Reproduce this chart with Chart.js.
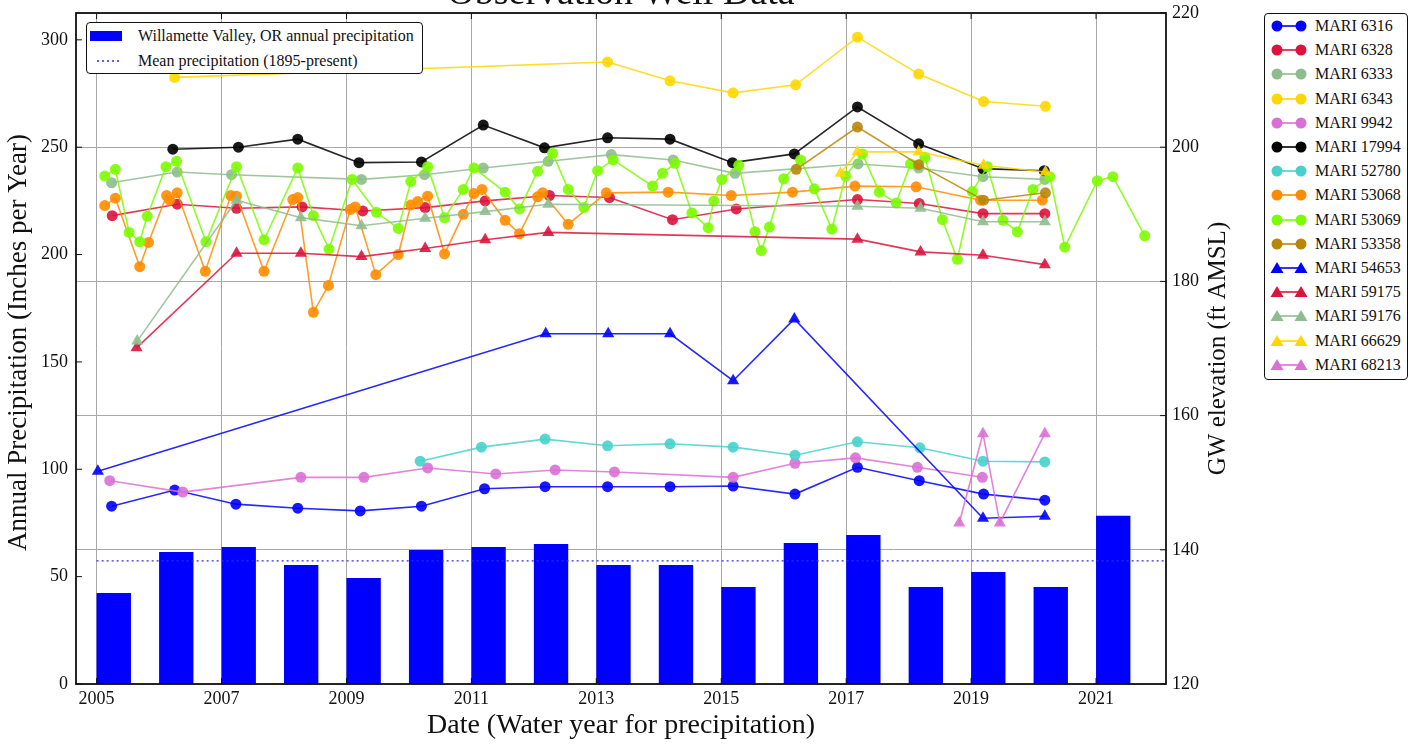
<!DOCTYPE html>
<html>
<head>
<meta charset="utf-8">
<script src="https://cdn.jsdelivr.net/npm/chart.js@4.4.1/dist/chart.umd.min.js"></script>
<style>
  html, body { margin: 0; padding: 0; background: #fff; overflow: hidden; }
  #wrap { position: relative; width: 1418px; height: 747px; font-family: "Liberation Serif", "Times New Roman", serif; }
  #chart { position: absolute; left: 0; top: 0; }
  .legend { position: absolute; background: #fff; border: 1.3px solid #111; border-radius: 4px; box-sizing: border-box; font-size: 16px; color: #111; }
  .legend .row { display: flex; align-items: center; white-space: nowrap; }
  .legend svg { flex: none; }
</style>
</head>
<body>
<div id="wrap">
  <canvas id="chart" width="1418" height="747"></canvas>
  <div id="legendPrecip" class="legend" style="left:86px; top:22px; width:337px; height:52px;"></div>
  <div id="legendWells" class="legend" style="left:1264px; top:13px; width:144px; height:367px;"></div>
</div>
<script>
// precipitation (left axis, inches per year)
const precipYears = [2005, 2006, 2007, 2008, 2009, 2010, 2011, 2012, 2013, 2014, 2015, 2016, 2017, 2018, 2019, 2020, 2021];
const precipInches = [42.4, 61.5, 63.8, 55.4, 49.4, 62.4, 63.8, 65.2, 55.4, 55.4, 45.2, 65.7, 69.4, 45.2, 52.2, 45.2, 78.3];
const meanPrecip = 57.3;
const meanYears = [2005, 2022.2];

// axis ticks
const xTicks = [2005, 2007, 2009, 2011, 2013, 2015, 2017, 2019, 2021];
const leftTicks = [0, 50, 100, 150, 200, 250, 300];
const rightTicks = [120, 140, 160, 180, 200, 220];

// well water levels (right axis, ft AMSL); *T = decimal year, *V = elevation
const m6316T = [2005.24, 2006.25, 2007.23, 2008.22, 2009.22, 2010.20, 2011.21, 2012.18, 2013.18, 2014.18, 2015.19, 2016.18, 2017.18, 2018.17, 2019.20, 2020.18];
const m6316V = [146.5, 148.9, 146.8, 146.2, 145.8, 146.5, 149.1, 149.4, 149.4, 149.4, 149.5, 148.3, 152.3, 150.3, 148.3, 147.4];

const m6328T = [2005.25, 2006.29, 2007.24, 2008.29, 2009.26, 2010.26, 2011.22, 2012.25, 2013.21, 2014.22, 2015.24, 2017.18, 2018.17, 2019.19, 2020.18];
const m6328V = [189.8, 191.5, 190.9, 191.1, 190.5, 191.0, 192.0, 192.8, 192.5, 189.2, 190.8, 192.2, 191.6, 190.1, 190.1];

const m6333T = [2005.24, 2006.29, 2007.16, 2009.24, 2010.25, 2011.19, 2012.23, 2013.24, 2014.23, 2015.22, 2017.19, 2018.16, 2019.19, 2020.18];
const m6333V = [194.7, 196.3, 195.9, 195.2, 195.9, 196.9, 197.9, 198.9, 198.1, 196.1, 197.5, 196.9, 195.6, 195.2];

const m6343T = [2006.25, 2013.18, 2014.18, 2015.19, 2016.19, 2017.18, 2018.16, 2019.20, 2020.19];
const m6343V = [210.4, 212.7, 209.9, 208.1, 209.3, 216.4, 210.9, 206.8, 206.1];

const m9942T = [2005.21, 2006.38, 2008.27, 2009.28, 2010.30, 2011.39, 2012.34, 2013.29, 2015.19, 2016.18, 2017.15, 2018.14, 2019.18];
const m9942V = [150.3, 148.6, 150.8, 150.8, 152.2, 151.3, 151.9, 151.6, 150.8, 152.9, 153.7, 152.3, 150.8];

const m17994T = [2006.22, 2007.27, 2008.22, 2009.20, 2010.20, 2011.19, 2012.17, 2013.18, 2014.18, 2015.18, 2016.17, 2017.18, 2018.16, 2019.19, 2020.17];
const m17994V = [199.7, 200.0, 201.2, 197.7, 197.8, 203.3, 199.9, 201.4, 201.2, 197.7, 199.0, 206.0, 200.5, 196.8, 196.5];

const m52780T = [2010.18, 2011.16, 2012.18, 2013.18, 2014.18, 2015.19, 2016.18, 2017.18, 2018.18, 2019.19, 2020.18];
const m52780V = [153.2, 155.3, 156.5, 155.5, 155.8, 155.3, 154.1, 156.1, 155.2, 153.2, 153.1];

const m53068T = [2005.13, 2005.30, 2005.69, 2005.83, 2006.12, 2006.17, 2006.29, 2006.74, 2007.15, 2007.24, 2007.68, 2008.14, 2008.22, 2008.47, 2008.71, 2009.06, 2009.14, 2009.47, 2009.83, 2010.03, 2010.14, 2010.30, 2010.57, 2010.87, 2011.04, 2011.17, 2011.54, 2011.77, 2012.06, 2012.14, 2012.55, 2013.16, 2014.15, 2015.16, 2016.14, 2017.14, 2018.12, 2019.15, 2020.14];
const m53068V = [191.3, 192.4, 182.2, 185.8, 192.8, 192.1, 193.2, 181.5, 192.8, 192.7, 181.5, 192.2, 192.5, 175.4, 179.4, 190.7, 191.1, 181.0, 184.0, 191.4, 191.9, 192.7, 184.1, 190.0, 193.1, 193.7, 189.1, 187.1, 192.6, 193.2, 188.5, 193.2, 193.3, 192.8, 193.3, 194.2, 194.1, 192.1, 192.1];

const m53069T = [2005.13, 2005.30, 2005.52, 2005.69, 2005.81, 2006.11, 2006.28, 2006.75, 2007.24, 2007.68, 2008.22, 2008.47, 2008.72, 2009.09, 2009.48, 2009.83, 2010.03, 2010.30, 2010.57, 2010.87, 2011.04, 2011.54, 2011.77, 2012.06, 2012.30, 2012.55, 2012.80, 2013.02, 2013.27, 2013.90, 2014.06, 2014.26, 2014.53, 2014.79, 2014.88, 2015.01, 2015.28, 2015.54, 2015.64, 2015.77, 2016.00, 2016.27, 2016.49, 2016.77, 2016.99, 2017.26, 2017.53, 2017.80, 2018.03, 2018.26, 2018.54, 2018.78, 2019.02, 2019.26, 2019.51, 2019.74, 2019.99, 2020.26, 2020.50, 2021.02, 2021.27, 2021.78];
const m53069V = [195.7, 196.7, 187.3, 185.9, 189.7, 197.1, 197.9, 185.9, 197.1, 186.2, 196.9, 189.8, 184.8, 195.2, 190.3, 187.9, 194.9, 197.1, 189.5, 193.7, 196.9, 193.3, 190.8, 196.4, 199.1, 193.7, 191.0, 196.5, 198.1, 194.2, 196.1, 197.6, 190.2, 188.0, 192.0, 195.2, 197.3, 187.4, 184.6, 188.1, 195.3, 198.1, 193.8, 187.8, 195.7, 199.0, 193.3, 191.7, 197.5, 198.5, 189.2, 183.3, 193.4, 197.1, 189.1, 187.4, 193.7, 195.6, 185.1, 195.0, 195.6, 186.8];

const m53358T = [2016.20, 2017.18, 2018.16, 2019.20, 2020.19];
const m53358V = [196.7, 203.0, 197.4, 192.1, 193.2];

const m54653T = [2005.02, 2012.19, 2013.19, 2014.18, 2015.19, 2016.17, 2019.19, 2020.18];
const m54653V = [151.7, 172.2, 172.2, 172.2, 165.2, 174.4, 144.7, 145.0];

const m59175T = [2005.64, 2007.24, 2008.27, 2009.24, 2010.26, 2011.22, 2012.23, 2017.18, 2018.19, 2019.19, 2020.18];
const m59175V = [170.1, 184.2, 184.2, 183.7, 184.9, 186.2, 187.3, 186.3, 184.4, 183.9, 182.5];

const m59176T = [2005.65, 2007.24, 2008.27, 2009.24, 2010.26, 2011.22, 2012.23, 2017.18, 2018.19, 2019.19, 2020.18];
const m59176V = [171.1, 192.1, 189.5, 188.3, 189.4, 190.4, 191.5, 191.2, 190.9, 188.9, 188.9];

const m66629T = [2016.91, 2017.18, 2018.16, 2019.20, 2020.19];
const m66629V = [196.1, 199.3, 199.3, 197.3, 196.3];

const m68213T = [2018.81, 2019.19, 2019.46, 2020.18];
const m68213V = [144.0, 157.3, 144.0, 157.3];

const wells = [
  { label: "MARI 6316",  t: m6316T,  v: m6316V,  color: "#0000ff", marker: "circle" },
  { label: "MARI 6328",  t: m6328T,  v: m6328V,  color: "#dc143c", marker: "circle" },
  { label: "MARI 6333",  t: m6333T,  v: m6333V,  color: "#8fbc8f", marker: "circle" },
  { label: "MARI 6343",  t: m6343T,  v: m6343V,  color: "#ffd700", marker: "circle" },
  { label: "MARI 9942",  t: m9942T,  v: m9942V,  color: "#da70d6", marker: "circle" },
  { label: "MARI 17994", t: m17994T, v: m17994V, color: "#000000", marker: "circle" },
  { label: "MARI 52780", t: m52780T, v: m52780V, color: "#48d1cc", marker: "circle" },
  { label: "MARI 53068", t: m53068T, v: m53068V, color: "#ff8c00", marker: "circle" },
  { label: "MARI 53069", t: m53069T, v: m53069V, color: "#7cfc00", marker: "circle" },
  { label: "MARI 53358", t: m53358T, v: m53358V, color: "#b8860b", marker: "circle" },
  { label: "MARI 54653", t: m54653T, v: m54653V, color: "#0000ff", marker: "triangle" },
  { label: "MARI 59175", t: m59175T, v: m59175V, color: "#dc143c", marker: "triangle" },
  { label: "MARI 59176", t: m59176T, v: m59176V, color: "#8fbc8f", marker: "triangle" },
  { label: "MARI 66629", t: m66629T, v: m66629V, color: "#ffd700", marker: "triangle" },
  { label: "MARI 68213", t: m68213T, v: m68213V, color: "#da70d6", marker: "triangle" }
];

const SERIF = '"Liberation Serif", "Times New Roman", serif';
const BAR_W = 0.55;          // bar width in years, bars start at the year (edge aligned)
const GRID = "#a8a8a8";

const alpha = (hex, a) => hex + Math.round(a * 255).toString(16).padStart(2, "0");

const datasets = [
  {
    type: "bar",
    label: "Willamette Valley, OR annual precipitation",
    data: precipYears.map((yr, i) => ({ x: yr + BAR_W / 2, y: precipInches[i] })),
    yAxisID: "y",
    backgroundColor: "#0000ff",
    borderWidth: 0,
    barPercentage: BAR_W,
    categoryPercentage: 1,
    order: 100
  },
  {
    type: "line",
    label: "Mean precipitation (1895-present)",
    data: meanYears.map(yr => ({ x: yr, y: meanPrecip })),
    yAxisID: "y",
    borderColor: "#2a2aff",
    borderWidth: 1.3,
    borderDash: [2, 3],
    pointRadius: 0,
    order: 99
  },
  ...wells.map((w, i) => ({
    type: "line",
    label: w.label,
    data: w.t.map((t, j) => ({ x: t, y: w.v[j] })),
    yAxisID: "y2",
    borderColor: alpha(w.color, 0.85),
    backgroundColor: alpha(w.color, 0.9),
    pointBackgroundColor: alpha(w.color, 0.9),
    pointBorderColor: alpha(w.color, 0.9),
    pointBorderWidth: 0,
    pointStyle: w.marker,
    pointRadius: w.marker === "triangle" ? 7 : 5.5,
    borderWidth: 1.6,
    tension: 0,
    order: wells.length - i
  }))
];

// matplotlib style frame, inward ticks, clipped title, axis titles
const framePlugin = {
  id: "frame",
  afterDraw(chart) {
    const { ctx, chartArea: a, scales } = chart;
    ctx.save();
    ctx.strokeStyle = "#111";
    ctx.lineWidth = 1;
    ctx.beginPath();
    leftTicks.forEach(v => { const p = scales.y.getPixelForValue(v); ctx.moveTo(a.left, p); ctx.lineTo(a.left + 6, p); });
    rightTicks.forEach(v => { const p = scales.y2.getPixelForValue(v); ctx.moveTo(a.right - 6, p); ctx.lineTo(a.right, p); });
    xTicks.forEach(v => {
      const p = scales.x.getPixelForValue(v);
      ctx.moveTo(p, a.bottom); ctx.lineTo(p, a.bottom - 6);
      ctx.moveTo(p, a.top); ctx.lineTo(p, a.top + 6);
    });
    ctx.stroke();
    ctx.lineWidth = 1.8;
    ctx.strokeRect(a.left, a.top, a.right - a.left, a.bottom - a.top);

    ctx.fillStyle = "#111";
    ctx.font = "38px " + SERIF;
    ctx.textAlign = "center";
    ctx.textBaseline = "alphabetic";
    ctx.fillText("Observation Well Data", (a.left + a.right) / 2, 4);

    ctx.textBaseline = "middle";
    ctx.save();
    ctx.translate(19, (a.top + a.bottom) / 2 - 6);
    ctx.rotate(-Math.PI / 2);
    ctx.font = "27px " + SERIF;
    ctx.fillText("Annual Precipitation (Inches per Year)", 0, 0);
    ctx.restore();

    ctx.translate(scales.y2.left + 52, (a.top + a.bottom) / 2);
    ctx.rotate(-Math.PI / 2);
    ctx.font = "25px " + SERIF;
    ctx.fillText("GW elevation (ft AMSL)", 0, 0);
    ctx.restore();
  }
};

const tickFont = { family: SERIF, size: 18 };
// keep tick labels from pushing the plot area inwards
const noPad = s => { s.paddingTop = 0; s.paddingBottom = 0; s.paddingLeft = 0; s.paddingRight = 0; };

const chart = new Chart(document.getElementById("chart"), {
  type: "line",
  data: { datasets },
  options: {
    responsive: false,
    animation: false,
    layout: { padding: { top: 13, right: 185, left: 0, bottom: 0 } },
    plugins: { legend: { display: false }, tooltip: { enabled: false } },
    scales: {
      x: {
        type: "linear",
        min: 2004.67,
        max: 2022.12,
        offset: false,
        afterBuildTicks: s => { s.ticks = xTicks.map(v => ({ value: v })); },
        afterFit: s => { noPad(s); s.height = 63; },
        ticks: { font: tickFont, color: "#111", padding: 4, maxRotation: 0, autoSkip: false, callback: v => String(v) },
        grid: { color: GRID, lineWidth: 1, drawTicks: false, offset: false },
        border: { display: false },
        title: { display: true, text: "Date (Water year for precipitation)", color: "#111", font: { family: SERIF, size: 28 }, padding: { top: 0, bottom: 5 } }
      },
      y: {
        position: "left",
        min: 0,
        max: 312.5,
        afterBuildTicks: s => { s.ticks = leftTicks.map(v => ({ value: v })); },
        afterFit: s => { noPad(s); s.width = 76; },
        ticks: { font: tickFont, color: "#111", padding: 8 },
        grid: { display: false, drawTicks: false },
        border: { display: false }
      },
      y2: {
        position: "right",
        min: 120,
        max: 220,
        afterBuildTicks: s => { s.ticks = rightTicks.map(v => ({ value: v })); },
        afterFit: s => { noPad(s); s.width = 67; },
        ticks: { font: tickFont, color: "#111", padding: 6 },
        grid: { color: GRID, lineWidth: 1, drawTicks: false },
        border: { display: false }
      }
    }
  },
  plugins: [framePlugin]
});

// legends built from the datasets
function markerSvg(color, style) {
  const m = cx => style === "triangle"
    ? `<polygon points="${cx - 6.5},17 ${cx + 6.5},17 ${cx},6" fill="${color}"/>`
    : `<circle cx="${cx}" cy="12" r="5.5" fill="${color}"/>`;
  return `<svg width="40" height="24"><line x1="7" y1="12" x2="31" y2="12" stroke="${color}" stroke-width="1.6"/>${m(7)}${m(31)}</svg>`;
}

document.getElementById("legendWells").innerHTML = wells.map(w =>
  `<div class="row" style="height:24.2px;padding-left:5px;">${markerSvg(w.color, w.marker)}<span style="margin-left:5px">${w.label}</span></div>`
).join("");

document.getElementById("legendPrecip").innerHTML =
  `<div class="row" style="height:25px;margin-top:0px;padding-left:3px;"><svg width="40" height="24"><rect x="0" y="7" width="32" height="10" fill="#0000ff"/></svg><span style="margin-left:8px">${datasets[0].label}</span></div>` +
  `<div class="row" style="height:25px;padding-left:3px;"><svg width="40" height="24"><line x1="7" y1="12" x2="30" y2="12" stroke="#2a2aff" stroke-width="1.3" stroke-dasharray="2 3"/></svg><span style="margin-left:8px">${datasets[1].label}</span></div>`;
</script>
</body>
</html>
